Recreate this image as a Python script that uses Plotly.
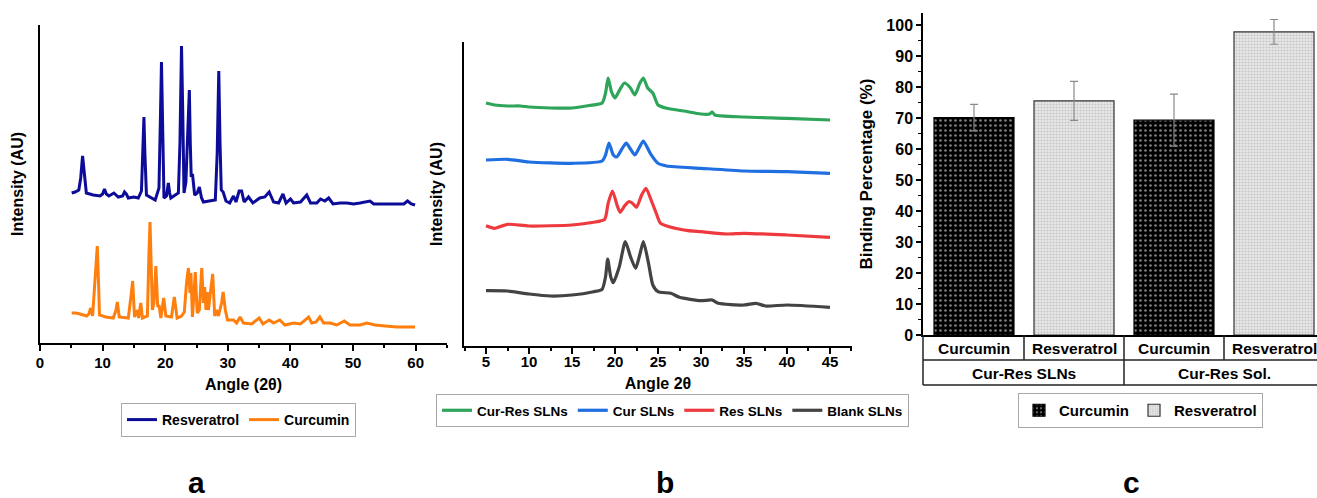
import plotly.graph_objects as go

FONT = "Liberation Sans, Arial, sans-serif"
W, H = 1317, 498

# ---------------- Panel a : XRD of pure drugs ----------------
res_angle = [5.06, 5.6, 6.2, 6.5, 6.8, 7.1, 7.4, 8.5, 9.6, 10.0, 10.3, 10.6, 11.0, 11.8, 12.5, 13.2, 13.5, 13.8,
             14.1, 15.0, 15.7, 16.2, 16.45, 16.6, 16.75, 17.0, 18.4, 19.0, 19.25, 19.4, 19.55, 19.8, 20.2, 20.5,
             20.7, 20.9, 21.6, 22.1, 22.35, 22.6, 22.8, 23.0, 23.3, 23.6, 23.85, 24.0, 24.15, 24.35, 24.7, 25.1,
             25.45, 25.8, 26.1, 27.0, 28.0, 28.3, 28.55, 28.75, 28.95, 29.25, 29.7, 30.3, 30.9, 31.3, 31.8, 32.2,
             32.6, 33.3, 34.0, 35.1, 35.9, 36.6, 37.3, 38.1, 38.8, 39.3, 40.0, 40.5, 41.6, 42.6, 43.2, 44.2, 44.8,
             45.5, 46.1, 46.8, 47.9, 49.0, 50.1, 51.1, 51.7, 52.7, 53.3, 54.9, 56.5, 58.1, 58.7, 59.3, 59.9]
res_int = [150, 151, 153, 165, 187, 165, 150, 148, 147, 149, 154, 149, 147, 150, 146, 147, 151, 149,
           145, 146, 145, 152, 190, 226, 190, 148, 143, 155, 230, 281, 230, 145, 147, 160,
           150, 145, 148, 150, 200, 297, 230, 150, 161, 215, 253, 200, 166, 169, 148, 150,
           156, 145, 141, 142, 143, 190, 272, 200, 153, 151, 142, 140, 147, 141, 152, 152,
           141, 146, 140, 145, 146, 151, 141, 140, 149, 140, 144, 140, 141, 148, 140, 140, 144,
           142, 145, 139, 140, 140, 139, 140, 141, 142, 139, 139, 139, 139, 142, 139, 138]

cur_angle = [5.06, 5.7, 6.4, 7.45, 7.8, 8.1, 8.4, 8.85, 9.15, 9.35, 9.5, 10.5, 11.7, 12.1, 12.35, 12.65, 13.5,
             14.1, 14.5, 14.8, 15.1, 15.55, 15.75, 16.1, 16.35, 17.15, 17.4, 17.57, 17.75, 17.95, 18.2, 18.5,
             18.8, 19.0, 19.3, 19.75, 20.1, 21.0, 21.45, 21.9, 22.6, 23.05, 23.4, 23.7, 23.95, 24.1, 24.35,
             24.8, 25.1, 25.45, 25.83, 26.1, 26.3, 26.5, 26.7, 26.9, 27.15, 27.58, 27.9, 28.2, 28.5, 29.0,
             29.25, 29.6, 29.95, 30.9, 31.4, 31.95, 32.5, 33.8, 35.0, 35.6, 36.6, 37.3, 38.3, 39.1, 40.5,
             41.6, 42.9, 43.4, 44.1, 44.7, 45.3, 46.3, 47.4, 48.6, 49.5, 51.1, 52.2, 53.5, 55.1, 57.0, 58.6, 59.9]
cur_int = [30, 30, 29, 27, 29, 35, 27, 66, 97, 60, 28, 26, 25, 32, 41, 26, 25,
           25, 45, 62, 26, 33, 25, 40, 25, 27, 90, 121, 80, 33, 40, 77,
           36, 38, 25, 45, 27, 26, 46, 25, 27, 31, 60, 75, 50, 70, 26,
           71, 30, 33, 75, 40, 56, 33, 51, 33, 47, 69, 27, 33, 27, 40,
           51, 33, 23, 23, 20, 26, 20, 19, 25, 19, 23, 20, 23, 18, 20,
           19, 26, 20, 21, 26, 20, 20, 18, 22, 18, 18, 20, 18, 17, 16, 16, 16]

# ---------------- Panel b : XRD of SLNs ----------------
crs_angle = [5.0, 6.0, 7.5, 9.0, 10, 12.5, 15, 17, 18.5, 18.9, 19.2, 19.6, 20.0, 20.6, 21.1, 21.8, 22.3, 22.9,
             23.3, 23.8, 24.4, 25.0, 26, 28, 30, 31.0, 31.3, 31.6, 35, 40, 45]
crs_int = [243, 241, 240, 240, 239, 238, 238, 240.5, 243, 253, 268, 254, 248, 257, 263, 258, 251, 263,
           268, 258, 253, 241, 237.7, 235, 232, 232, 234, 231, 229, 227.7, 226]

cs_angle = [5.0, 7.5, 10, 15, 18.5, 18.9, 19.3, 19.8, 20.2, 20.8, 21.3, 21.8, 22.3, 22.8, 23.3, 24.1, 25.0,
            26, 30, 35, 40, 45]
cs_int = [186, 186.7, 184, 182.7, 185, 191, 203, 191, 189, 197, 203, 197, 191, 198, 205, 192.7, 182.7,
          180, 177.7, 175, 174.3, 172.7]

rs_angle = [5.0, 6, 7.5, 10, 15, 17.5, 18.8, 19.2, 19.7, 20.3, 20.6, 21.1, 21.6, 22.0, 22.5, 23.1, 23.6, 24.2,
            24.8, 25.3, 27, 28.5, 30, 33, 35, 40, 45]
rs_int = [120.3, 117.7, 121.7, 120, 121, 123.7, 126.7, 142.7, 155, 139.3, 133.7, 140, 144.3, 143, 138.7, 151,
          157.7, 146, 132.7, 122.7, 117.7, 115.3, 114.3, 112, 112.7, 111, 108.7]

bs_angle = [5.0, 7.5, 10, 12.5, 15, 17.5, 18.5, 18.9, 19.15, 19.5, 19.8, 20.5, 21.2, 21.8, 22.4, 22.9, 23.3,
            23.9, 24.4, 25, 26.5, 27.5, 30, 31.3, 32, 35, 36.4, 37.5, 40, 45]
bs_int = [55.3, 55, 52, 50, 51, 54.3, 56.7, 69.3, 87, 69.3, 63.3, 79.3, 104.3, 89.3, 77.7, 92, 104.3,
          82.7, 61, 54.3, 52.7, 48.7, 45.3, 46, 42.7, 41, 42.7, 40, 41, 38.7]

# ---------------- Panel c : binding percentage ----------------
groups = ["Cur-Res SLNs", "Cur-Res SLNs", "Cur-Res Sol.", "Cur-Res Sol."]
drugs = ["Curcumin", "Resveratrol", "Curcumin", "Resveratrol"]
binding = [70.2, 75.6, 69.4, 97.9]
binding_err = [4.3, 6.3, 8.4, 4.0]

# ------------------------------------------------------------
bold = dict(family=FONT, color="black", weight="bold")
fig = go.Figure()

fig.add_trace(go.Scatter(x=res_angle, y=res_int, name="Resveratrol", mode="lines",
                         line=dict(color="#0c0c98", width=3), xaxis="x", yaxis="y", legend="legend"))
fig.add_trace(go.Scatter(x=cur_angle, y=cur_int, name="Curcumin", mode="lines",
                         line=dict(color="#ff7f0e", width=3), xaxis="x", yaxis="y", legend="legend"))

for xs, ys, nm, col in [(crs_angle, crs_int, "Cur-Res SLNs", "#2ea55a"),
                        (cs_angle, cs_int, "Cur SLNs", "#1f6fe0"),
                        (rs_angle, rs_int, "Res SLNs", "#ee3a3e"),
                        (bs_angle, bs_int, "Blank SLNs", "#434343")]:
    fig.add_trace(go.Scatter(x=xs, y=ys, name=nm, mode="lines",
                             line=dict(color=col, width=3.2, shape="spline", smoothing=0.6),
                             xaxis="x2", yaxis="y2", legend="legend2"))

styles = {
    "Curcumin": dict(color="black", line=dict(color="black", width=1.2),
                     pattern=dict(shape=".", bgcolor="black", fgcolor="white", size=5, solidity=0.22)),
    "Resveratrol": dict(color="#d4d4d4", line=dict(color="#333333", width=1.2),
                        pattern=dict(shape=".", bgcolor="#e8e8e8", fgcolor="#a4a4a4", size=3, solidity=0.4)),
}
for d in ["Curcumin", "Resveratrol"]:
    idx = [i for i, v in enumerate(drugs) if v == d]
    fig.add_trace(go.Bar(x=idx, y=[binding[i] for i in idx], name=d, width=0.8,
                         marker=styles[d],
                         error_y=dict(type="data", array=[binding_err[i] for i in idx], visible=True,
                                      color="#8a8a8a", thickness=1.2, width=4),
                         xaxis="x3", yaxis="y3", legend="legend3"))

# ---------------- axes ----------------
def px_x(p):
    return p / W

def px_y(p):
    return (H - p) / H

line_ax = dict(showline=True, linecolor="black", showgrid=False, zeroline=False, automargin=False)

layout = dict(
    width=W, height=H, margin=dict(l=0, r=0, t=0, b=0),
    paper_bgcolor="white", plot_bgcolor="white",
    font=dict(family=FONT, size=15, color="black", weight="bold"),
    barmode="overlay",
    xaxis=dict(**line_ax, linewidth=2.2, domain=[px_x(40), px_x(447)], anchor="y", range=[0, 65],
               tick0=0, dtick=10, ticks="outside", ticklen=6, tickwidth=2, tickcolor="black",
               minor=dict(dtick=5, ticks="outside", ticklen=3, tickwidth=1.5, tickcolor="black"),
               tickfont=dict(size=15, **bold), ticklabelstandoff=-1,
               title=dict(text="Angle (2θ)", font=dict(size=16, **bold), standoff=9)),
    yaxis=dict(**line_ax, linewidth=2.2, domain=[px_y(343), px_y(25)], anchor="x", range=[0, 318],
               showticklabels=False, ticks="",
               title=dict(text="Intensity (AU)", font=dict(size=16, **bold), standoff=10)),
    xaxis2=dict(**line_ax, linewidth=2.2, domain=[px_x(464), px_x(852)], anchor="y2", range=[2.44, 47.56],
                tick0=0, dtick=5, ticks="outside", ticklen=6, tickwidth=2, tickcolor="black",
                minor=dict(dtick=2.5, ticks="outside", ticklen=3, tickwidth=1.5, tickcolor="black"),
                tickfont=dict(size=15, **bold), ticklabelstandoff=-5,
                title=dict(text="Angle 2θ", font=dict(size=16, **bold), standoff=9)),
    yaxis2=dict(**line_ax, linewidth=2.2, domain=[px_y(346), px_y(42)], anchor="x2", range=[0, 304],
                showticklabels=False, ticks="",
                title=dict(text="Intensity (AU)", font=dict(size=16, **bold), standoff=15)),
    xaxis3=dict(**line_ax, linewidth=1.5, domain=[px_x(923), 1.0], anchor="y3", range=[-0.51, 3.43],
                showticklabels=False, ticks=""),
    yaxis3=dict(**line_ax, linewidth=1.5, domain=[px_y(335), px_y(13)], anchor="x3", range=[0, 104],
                tick0=0, dtick=10, ticks="outside", ticklen=5, tickwidth=1.5, tickcolor="black",
                minor=dict(dtick=5, ticks="outside", ticklen=3, tickwidth=1.2, tickcolor="black"),
                tickfont=dict(size=16, **bold),
                title=dict(text="Binding Percentage (%)", font=dict(size=17, **bold), standoff=9)),
)

leg_common = dict(orientation="h", xanchor="left", yanchor="top", bgcolor="white",
                  bordercolor="#a8a8a8", borderwidth=1, font=dict(size=14, **bold),
                  itemclick=False, itemdoubleclick=False)
layout["legend"] = dict(**leg_common, x=px_x(121), y=px_y(403))
layout["legend2"] = dict(**{**leg_common, "font": dict(size=13.5, **bold)}, x=px_x(436), y=px_y(394))
layout["legend3"] = dict(**{**leg_common, "font": dict(size=15, **bold)}, x=px_x(1018), y=px_y(393))

# ---------------- category table under panel c ----------------
shapes = []
annotations = []
row1, row2 = px_y(360), px_y(385)
ax_bottom = px_y(335)
lc = dict(color="#222222", width=1.5)
shapes.append(dict(type="line", xref="x3 domain", yref="paper", x0=0, x1=1, y0=row1, y1=row1, line=lc))
shapes.append(dict(type="line", xref="x3 domain", yref="paper", x0=0, x1=1, y0=row2, y1=row2, line=lc))
shapes.append(dict(type="line", xref="x3 domain", yref="paper", x0=0, x1=0, y0=row2, y1=ax_bottom, line=lc))
for i in range(len(drugs) - 1):
    b = i + 0.5
    y0 = row2 if groups[i] != groups[i + 1] else row1
    shapes.append(dict(type="line", xref="x3", yref="paper", x0=b, x1=b, y0=y0, y1=ax_bottom, line=lc))
for i, d in enumerate(drugs):
    annotations.append(dict(text=d, xref="x3", yref="paper", x=i, y=px_y(348), showarrow=False,
                            xanchor="center", yanchor="middle", font=dict(size=15.5, **bold)))
seen = []
for g in groups:
    if g not in seen:
        seen.append(g)
for g in seen:
    idx = [i for i, v in enumerate(groups) if v == g]
    annotations.append(dict(text=g, xref="x3", yref="paper", x=sum(idx) / len(idx), y=px_y(373),
                            showarrow=False, xanchor="center", yanchor="middle", font=dict(size=15.5, **bold)))

# panel letters
for letter, xp in [("a", 196), ("b", 665), ("c", 1131)]:
    annotations.append(dict(text=letter, xref="paper", yref="paper", x=px_x(xp), y=0.0,
                            showarrow=False, xanchor="center", yanchor="bottom", yshift=-3,
                            font=dict(size=30, **bold)))

layout["shapes"] = shapes
layout["annotations"] = annotations
fig.update_layout(**layout)
fig.write_html("out.html")
